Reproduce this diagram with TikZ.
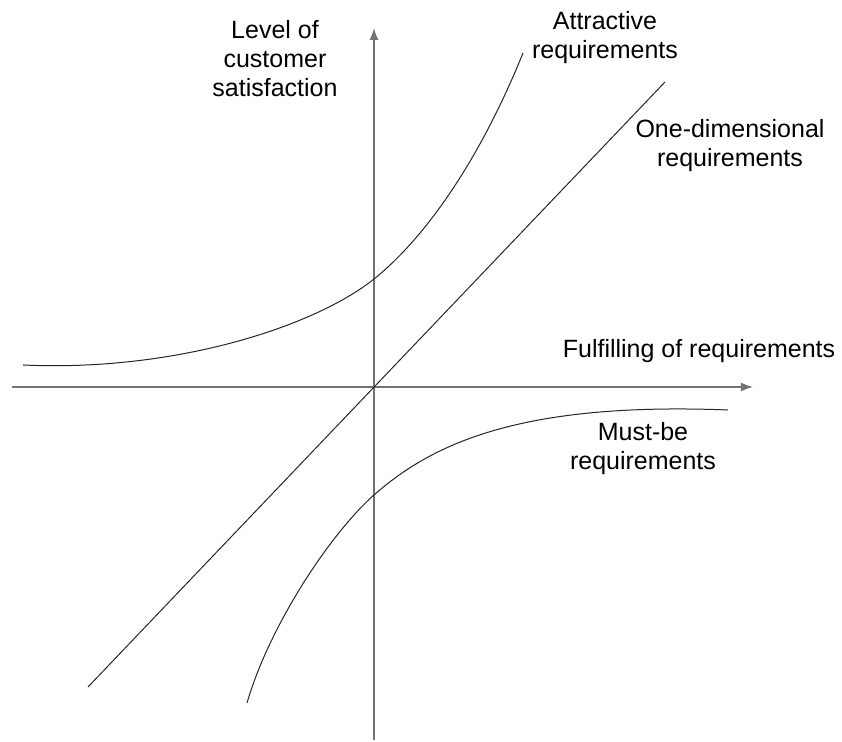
\documentclass[tikz,border=0pt]{standalone}
\usepackage{fontspec}
\setmainfont{Liberation Sans}
\usepackage{tikz}
\usetikzlibrary{arrows.meta,positioning,calc}

\tikzset{
    axis/.style = {black!55, line width = .8pt, -{Latex[length = 6pt, width = 4.5pt]}},
    req/.style = {black!85, line width = .5pt},
    lab/.style = {font = \fontsize{12.5}{14.5}\selectfont, align = center, anchor = base, inner sep = 0pt}
}

\begin{document}
\begin{tikzpicture}[x = .5pt, y = .5pt]
    \useasboundingbox (-374,-355) rectangle (468,387);
    \coordinate (O) at (0,0);
    \coordinate (xs) at (-362,0);
    \coordinate (xe) at (379,0);
    \coordinate (ys) at (0,-353);
    \coordinate (ye) at (0,359);
    % axes
    \draw[axis] (xs) -- (xe);
    \draw[axis] (ys) -- (ye);
    \node[lab] (xlab) at (325,29) {Fulfilling of requirements};
    \node[lab] (ylab) at (-99,290) {Level of\\customer\\satisfaction};
    % the three kinds of requirements
    \coordinate (a0) at (-351,22);
    \coordinate (a1) at (0,108);
    \coordinate (a2) at (149,334);
    \draw[req] (a0) .. controls (-200,15) and (-60,60) .. (a1) .. controls (50,148) and (105,225) .. (a2);
    \coordinate (d0) at (-286,-300);
    \coordinate (d1) at (291,305);
    \draw[req] (d0) -- (d1);
    \coordinate (m0) at (-127,-316);
    \coordinate (m1) at (0,-108);
    \coordinate (m2) at (354,-23);
    \draw[req] (m0) .. controls (-105,-240) and (-45,-148) .. (m1) .. controls (60,-55) and (150,-15) .. (m2);
    \node[lab] (attr) at (231,328) {Attractive\\requirements};
    \node[lab] (onedim) at (356,220) {One-dimensional\\requirements};
    \node[lab] (mustbe) at (269,-83) {Must-be\\requirements};
\end{tikzpicture}
\end{document}
